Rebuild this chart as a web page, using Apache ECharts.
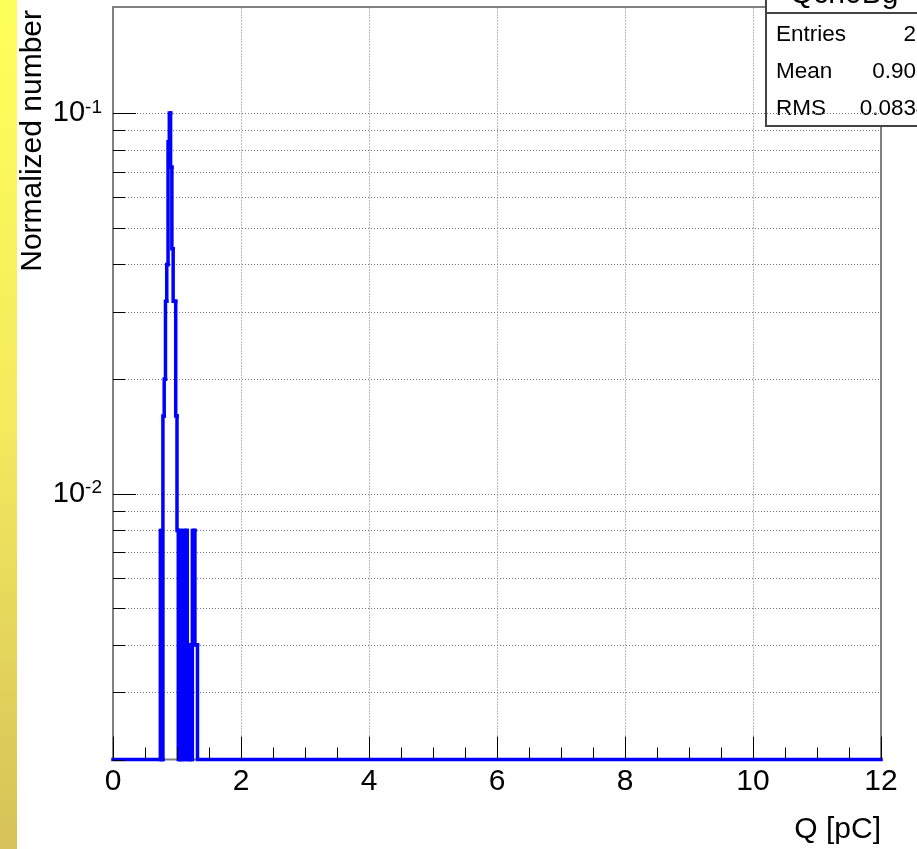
<!DOCTYPE html>
<html>
<head>
<meta charset="utf-8">
<script src="https://cdn.jsdelivr.net/npm/echarts@6/dist/echarts.min.js"></script>
<style>html,body{margin:0;padding:0;background:#fff}#c{width:917px;height:849px}</style>
</head>
<body>
<div id="c"></div>
<script>
// ---------------- data ----------------
const X_MIN = 0, X_MAX = 12, X_INTERVAL = 2;
const X_GRID_VALUES = [2, 4, 6, 8, 10];
const Y_MIN = 0.002, Y_MAX = 0.19;
const Y_MAJOR_TICKS = [0.01, 0.1];
const Y_MINOR_TICKS = [0.002, 0.003, 0.004, 0.005, 0.006, 0.007, 0.008, 0.009,
                       0.02, 0.03, 0.04, 0.05, 0.06, 0.07, 0.08, 0.09];
// histogram: bin left edge = BIN_START + i*BIN_WIDTH
const BIN_START = 0.74, BIN_WIDTH = 0.02;
const HIST_VALUES = [
  0.008, 0.000, 0.016, 0.020, 0.032, 0.040, 0.084, 0.100, 0.072, 0.044,
  0.032, 0.032, 0.016, 0.008, 0.000, 0.008, 0.000, 0.004, 0.008, 0.000,
  0.008, 0.004, 0.000, 0.004, 0.000, 0.008, 0.008, 0.004, 0.004
];
const X_TITLE = 'Q [pC]';
const Y_TITLE = 'Normalized number';
const STATS_TITLE = 'Qch0Bg';
const STATS_LABELS = ['Entries', 'Mean', 'RMS'];
const STATS_VALUES = ['250', '0.9015', '0.08342'];

// ---------------- chart ----------------
const FONT = 'Liberation Sans, Arial, Helvetica, sans-serif';
const chart = echarts.init(document.getElementById('c'), null, {renderer: 'canvas'});

// histogram segments: [xLeft, xRight, value, previousValue]
const BIN_END = +(BIN_START + HIST_VALUES.length * BIN_WIDTH).toFixed(6);
const histSegments = [[X_MIN, BIN_START, 0, 0]];
HIST_VALUES.forEach((v, i) => {
  const xl = +(BIN_START + i * BIN_WIDTH).toFixed(6);
  histSegments.push([xl, +(xl + BIN_WIDTH).toFixed(6), v, i > 0 ? HIST_VALUES[i - 1] : 0]);
});
histSegments.push([BIN_END, X_MAX, 0, HIST_VALUES[HIST_VALUES.length - 1]]);
const floorV = v => (v > 0 ? v : Y_MIN);

const yTickData = Y_MAJOR_TICKS.map(v => [X_MIN, v, 1]).concat(Y_MINOR_TICKS.map(v => [X_MIN, v, 0]));
const yGridData = Y_MAJOR_TICKS.concat(Y_MINOR_TICKS).filter(v => v > Y_MIN).map(v => [X_MIN, v]);
const xGridData = X_GRID_VALUES.map(v => [v, Y_MIN]);

function isMajor(v) {
  const e = Math.log10(v);
  return Y_MAJOR_TICKS.some(t => Math.abs(Math.log10(t) - e) < 1e-6);
}

const statsRows = [];
STATS_LABELS.forEach((lab, i) => {
  const y = 34.5 + i * 37;
  statsRows.push({type: 'text', x: 776, y: y,
    style: {text: lab, font: '22.5px ' + FONT, fill: '#000', textAlign: 'left', textVerticalAlign: 'middle'}});
  statsRows.push({type: 'text', x: 941, y: y,
    style: {text: STATS_VALUES[i], font: '22.5px ' + FONT, fill: '#000', textAlign: 'right', textVerticalAlign: 'middle'}});
});

const option = {
  animation: false,
  backgroundColor: '#ffffff',
  grid: {left: 113, right: 36, top: 7, bottom: 89.5, show: true,
         borderColor: '#808080', borderWidth: 2, backgroundColor: 'transparent'},
  xAxis: {
    type: 'value', min: X_MIN, max: X_MAX, interval: X_INTERVAL, z: 10,
    axisLine: {show: false},
    axisTick: {show: true, inside: true, length: 23, lineStyle: {color: '#000', width: 1}},
    minorTick: {show: true, splitNumber: 4, length: 12, lineStyle: {color: '#000', width: 1}},
    splitLine: {show: false},
    axisLabel: {fontSize: 30, fontFamily: FONT, color: '#000', margin: 7,
                showMinLabel: true, showMaxLabel: true}
  },
  yAxis: {
    type: 'log', logBase: 10, min: Y_MIN, max: Y_MAX,
    axisLine: {show: false}, axisTick: {show: false}, splitLine: {show: false},
    axisLabel: {
      margin: 11, fontFamily: FONT, color: '#000',
      formatter: v => {
        if (!isMajor(v)) return '';
        return '{b|10}{s|' + Math.round(Math.log10(v)) + '}';
      },
      rich: {
        b: {fontSize: 29, fontFamily: FONT, color: '#000', lineHeight: 30},
        s: {fontSize: 19, fontFamily: FONT, color: '#000', verticalAlign: 'top', lineHeight: 30}
      }
    }
  },
  series: [
    {
      type: 'custom', z: 1, silent: true, data: yGridData,
      renderItem: (params, api) => {
        const v = api.value(1);
        const p0 = api.coord([X_MIN, v]), p1 = api.coord([X_MAX, v]);
        return {type: 'line', shape: {x1: p0[0], y1: Math.round(p0[1]) + 0.5, x2: p1[0], y2: Math.round(p1[1]) + 0.5},
                style: {stroke: '#777', lineWidth: 1, lineDash: [1, 2]}};
      }
    },
    {
      type: 'custom', z: 1, silent: true, data: xGridData,
      renderItem: (params, api) => {
        const v = api.value(0);
        const p0 = api.coord([v, Y_MIN]), p1 = api.coord([v, Y_MAX]);
        return {type: 'line', shape: {x1: Math.round(p0[0]) + 0.5, y1: p0[1], x2: Math.round(p1[0]) + 0.5, y2: p1[1]},
                style: {stroke: '#777', lineWidth: 1, lineDash: [1, 2]}};
      }
    },
    {
      // histogram outline, one step per bin
      type: 'custom', z: 5, silent: true, clip: false, data: histSegments,
      encode: {x: [0, 1], y: [2, 3]},
      renderItem: (params, api) => {
        const xl = api.value(0), xr = api.value(1);
        const v = floorV(api.value(2)), pv = floorV(api.value(3));
        const a = api.coord([xl, pv]), b = api.coord([xl, v]), c = api.coord([xr, v]);
        return {type: 'polyline', shape: {points: [a, b, c]},
                style: {stroke: '#0000ff', lineWidth: 3.5, fill: null, lineJoin: 'miter', lineCap: 'square'}};
      }
    },
    {
      type: 'custom', z: 10, silent: true, data: yTickData,
      renderItem: (params, api) => {
        const v = api.value(1);
        const p = api.coord([X_MIN, v]);
        const len = api.value(2) ? 23 : 12;
        const y = Math.round(p[1]) + 0.5;
        return {type: 'line', shape: {x1: p[0], y1: y, x2: p[0] + len, y2: y},
                style: {stroke: '#000', lineWidth: 1}};
      }
    }
  ],
  graphic: [
    {type: 'rect', x: 0, y: 0, shape: {width: 17, height: 849}, z: 0,
     style: {fill: new echarts.graphic.LinearGradient(0, 0, 0, 1, [
       {offset: 0, color: '#ffff5a'}, {offset: 0.5, color: '#f3ea5e'}, {offset: 1, color: '#d6c258'}])}},
    {type: 'text', x: 33, y: 10, rotation: Math.PI / 2,
     style: {text: Y_TITLE, font: '30px ' + FONT, fill: '#000', textAlign: 'right', textVerticalAlign: 'middle'}},
    {type: 'text', x: 881, y: 830,
     style: {text: X_TITLE, font: '30px ' + FONT, fill: '#000', textAlign: 'right', textVerticalAlign: 'middle'}},
    {type: 'group', z: 100, children: [
      {type: 'rect', shape: {x: 766, y: -10, width: 220, height: 136},
       style: {fill: '#fff', stroke: '#444', lineWidth: 2}},
      {type: 'line', shape: {x1: 766, y1: 13, x2: 917, y2: 13}, style: {stroke: '#444', lineWidth: 2}},
      {type: 'text', x: 790, y: 10,
       style: {text: STATS_TITLE, font: '30px ' + FONT, fill: '#000', textAlign: 'left', textVerticalAlign: 'bottom'}}
    ].concat(statsRows)}
  ]
};
chart.setOption(option);
</script>
</body>
</html>
